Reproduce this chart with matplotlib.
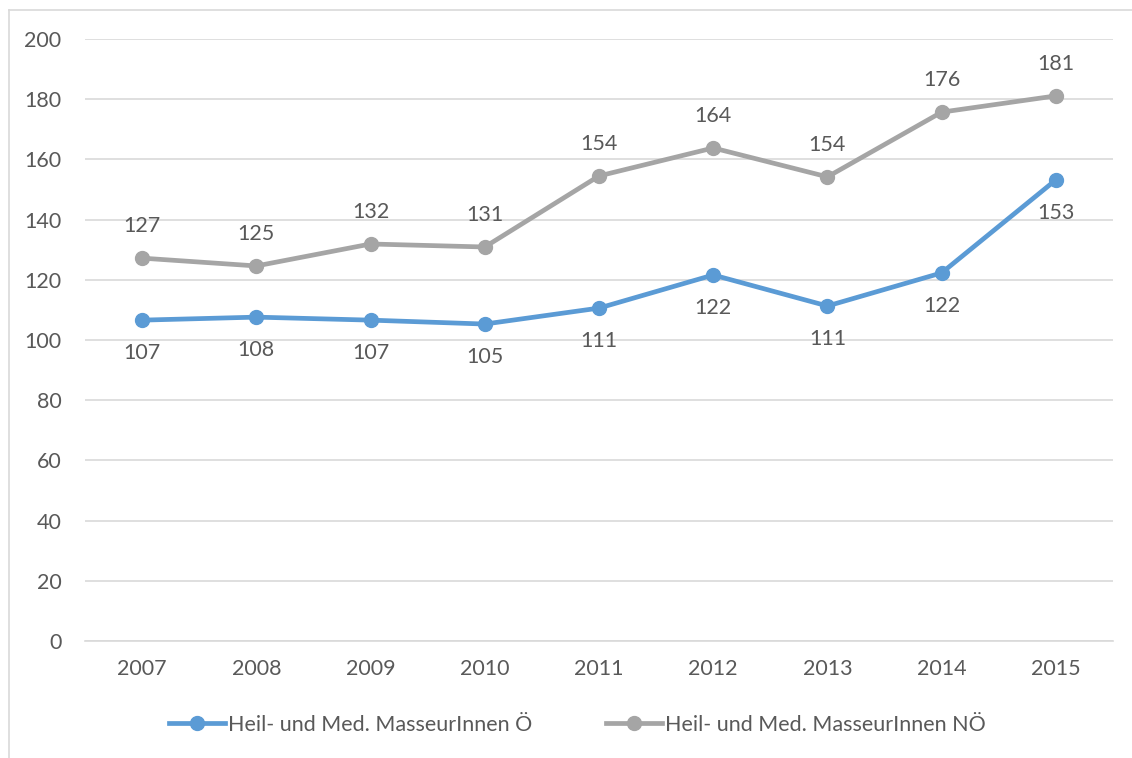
import matplotlib
matplotlib.use("Agg")
import matplotlib.pyplot as plt
from matplotlib.lines import Line2D

years = ["2007", "2008", "2009", "2010", "2011", "2012", "2013", "2014", "2015"]
oe = [106.6, 107.6, 106.6, 105.3, 110.6, 121.6, 111.3, 122.3, 153.2]
noe = [127.2, 124.6, 131.9, 130.9, 154.5, 163.8, 154.2, 175.7, 181.1]
label_oe = "Heil- und Med. MasseurInnen Ö"
label_noe = "Heil- und Med. MasseurInnen NÖ"
yticks = [0, 20, 40, 60, 80, 100, 120, 140, 160, 180, 200]

plt.rcParams['font.family'] = ['Lato', 'DejaVu Sans']
W, H = 1132, 758
fig = plt.figure(figsize=(W / 100, H / 100), dpi=100)
ax = fig.add_axes([85 / W, 1 - 641 / H, (1113 - 85) / W, (641 - 39) / H])

txt = "#595959"
blue = "#5B9BD5"
gray = "#A5A5A5"
fs = 15.5
x = list(range(len(years)))

ax.plot(x, noe, color=gray, lw=3.4, marker='o', ms=10, solid_capstyle='round', zorder=3)
ax.plot(x, oe, color=blue, lw=3.4, marker='o', ms=10, solid_capstyle='round', zorder=4)

for i, v in enumerate(noe):
    ax.annotate(f"{v:.0f}", (i, v), xytext=(0, 23), textcoords='offset points',
                ha='center', va='center', fontsize=fs, color=txt)
for i, v in enumerate(oe):
    ax.annotate(f"{v:.0f}", (i, v), xytext=(0, -24), textcoords='offset points',
                ha='center', va='center', fontsize=fs, color=txt)

ax.set_xlim(-0.5, len(years) - 0.5)
ax.set_ylim(0, 200)
ax.set_yticks(yticks)
ax.set_xticks(x)
ax.set_xticklabels(years)
ax.yaxis.grid(True, color="#D9D9D9", lw=1.2)
ax.set_axisbelow(True)
for s in ax.spines.values():
    s.set_visible(False)
ax.spines['bottom'].set_visible(True)
ax.spines['bottom'].set_color("#D9D9D9")
ax.spines['bottom'].set_linewidth(1.2)
ax.tick_params(axis='both', length=0, labelsize=fs, colors=txt)
ax.tick_params(axis='y', pad=17)
ax.tick_params(axis='x', pad=13)

handles = [Line2D([0], [0], color=blue, lw=3.4, marker='o', ms=10),
           Line2D([0], [0], color=gray, lw=3.4, marker='o', ms=10)]
fig.legend(handles, [label_oe, label_noe], loc='center', bbox_to_anchor=(0.51, 1 - 725 / H),
           ncol=2, frameon=False, fontsize=fs, labelcolor=txt, handlelength=2.6,
           handletextpad=0.15, columnspacing=3.4)

# outer chart frame (partially visible)
fig.add_artist(Line2D([8.5 / W, 8.5 / W], [0, 1 - 9.5 / H], color="#D9D9D9", lw=1.2,
                      transform=fig.transFigure))
fig.add_artist(Line2D([8.5 / W, 1], [1 - 9.5 / H, 1 - 9.5 / H], color="#D9D9D9", lw=1.2,
                      transform=fig.transFigure))

fig.savefig("out.png", dpi=100)
